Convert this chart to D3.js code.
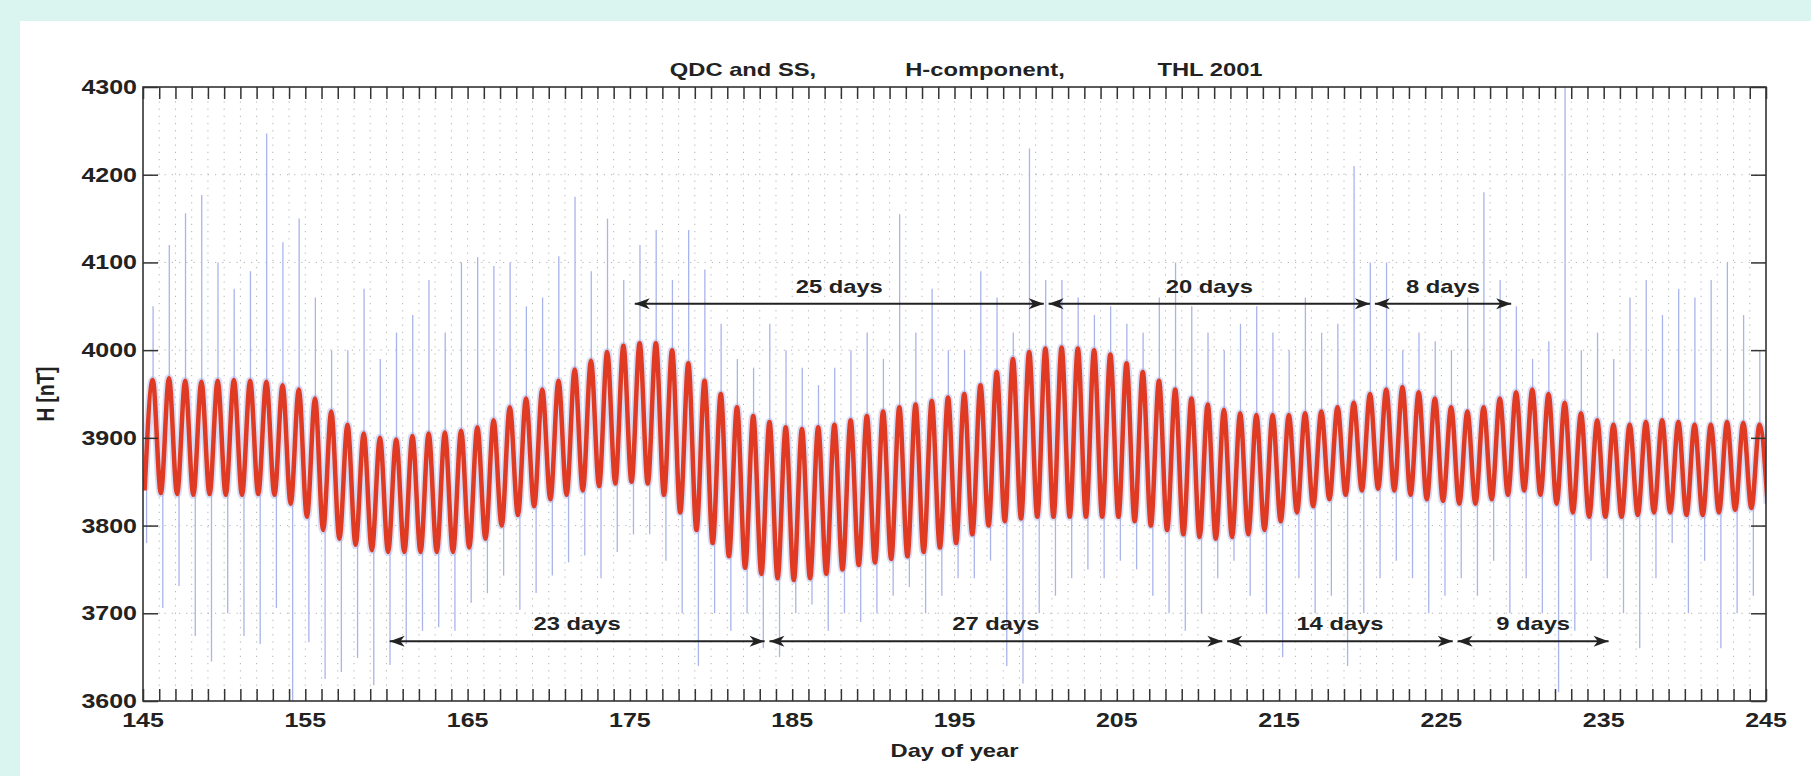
<!DOCTYPE html>
<html>
<head>
<meta charset="utf-8">
<script src="https://cdn.jsdelivr.net/npm/d3@7/dist/d3.min.js"></script>
<style>
  body { margin: 0; background: #daf4ef; }
  svg { display: block; }
  text { font-family: "Liberation Sans", Arial, Helvetica, sans-serif; font-weight: bold; fill: #222; }
</style>
</head>
<body>
<div id="chart"></div>
<script>
// x axis: day of year, labelled every 10 days
const labelDays = [145, 155, 165, 175, 185, 195, 205, 215, 225, 235, 245];
const yTicks = [3600, 3700, 3800, 3900, 4000, 4100, 4200, 4300];
const titleParts = ["QDC and SS,", "H-component,", "THL 2001"];

// QDC + SS curve: daily minimum (days 145..245) and daily maximum (days 145..244), nT
const qdcTrough = [
  3840, 3837, 3836, 3835, 3836, 3835, 3835, 3836, 3835, 3825,
  3810, 3795, 3785, 3778, 3772, 3770, 3770, 3770, 3770, 3770,
  3775, 3785, 3800, 3812, 3822, 3830, 3835, 3840, 3845, 3848,
  3850, 3848, 3835, 3815, 3795, 3780, 3765, 3752, 3745, 3740,
  3738, 3740, 3745, 3750, 3755, 3758, 3762, 3765, 3770, 3775,
  3780, 3790, 3800, 3805, 3808, 3810, 3810, 3810, 3810, 3810,
  3810, 3805, 3800, 3795, 3790, 3787, 3785, 3787, 3790, 3795,
  3805, 3815, 3822, 3830, 3835, 3840, 3842, 3840, 3835, 3830,
  3828, 3825, 3825, 3830, 3835, 3840, 3835, 3825, 3815, 3810,
  3810, 3810, 3812, 3815, 3815, 3812, 3812, 3815, 3818, 3820,
  3825
];
const qdcPeak = [
  3966, 3968, 3965, 3964, 3965, 3966, 3965, 3964, 3960, 3955,
  3945, 3930, 3915, 3905, 3900, 3898, 3902, 3905, 3906, 3908,
  3912, 3920, 3935, 3945, 3955, 3965, 3978, 3988, 3998, 4005,
  4008, 4008, 4000, 3985, 3965, 3950, 3935, 3925, 3918, 3912,
  3910, 3912, 3915, 3920, 3925, 3930, 3935, 3938, 3942, 3946,
  3950, 3960, 3975, 3990, 3998, 4002, 4003, 4002, 4000, 3995,
  3985, 3975, 3965, 3955, 3945, 3938, 3932, 3928, 3926, 3926,
  3926, 3928, 3930, 3935, 3940, 3950, 3955, 3958, 3952, 3945,
  3935, 3930, 3935, 3945, 3952, 3955, 3950, 3940, 3928, 3920,
  3915, 3915, 3918, 3920, 3918, 3915, 3915, 3918, 3917, 3915
];

// measured H: largest upward and downward excursion of each day (days 145..244), nT
const rawHigh = [
  4050, 4120, 4156, 4177, 4100, 4070, 4090, 4247, 4123, 4150,
  4060, 4000, 4000, 4070, 3990, 4020, 4040, 4080, 4020, 4100,
  4106, 4096, 4100, 4050, 4060, 4107, 4175, 4090, 4150, 4080,
  4120, 4137, 4080, 4137, 4092, 4030, 3990, 3980, 4030, 4000,
  3980, 3960, 3980, 4000, 4020, 3990, 4155, 4020, 4070, 4000,
  4000, 4090, 4060, 4020, 4230, 4080, 4080, 4060, 4040, 4050,
  4030, 4020, 4060, 4100, 4050, 4020, 4000, 4030, 4050, 4020,
  4000, 4060, 4020, 4030, 4210, 4100, 4100, 4000, 4020, 4010,
  4000, 4060, 4180, 4080, 4050, 3990, 4010, 4320, 4000, 4020,
  3990, 4060, 4080, 4040, 4070, 4060, 4080, 4100, 4040, 4000
];
const rawLow = [
  3780, 3706, 3731, 3674, 3645, 3700, 3674, 3665, 3706, 3600,
  3667, 3625, 3633, 3649, 3618, 3641, 3665, 3680, 3684, 3680,
  3712, 3723, 3743, 3704, 3723, 3743, 3758, 3766, 3740, 3770,
  3790, 3790, 3760, 3700, 3640, 3700, 3680, 3700, 3660, 3650,
  3700, 3710, 3680, 3700, 3690, 3700, 3720, 3730, 3700, 3720,
  3740, 3740, 3760, 3640, 3620, 3700, 3720, 3740, 3750, 3740,
  3760, 3750, 3720, 3700, 3680, 3700, 3740, 3760, 3720, 3700,
  3650, 3740, 3700, 3720, 3640, 3700, 3740, 3760, 3740, 3700,
  3720, 3740, 3720, 3760, 3700, 3740, 3700, 3610, 3680, 3760,
  3740, 3700, 3660, 3740, 3780, 3700, 3760, 3660, 3700, 3720
];

// interval arrows (days) and their levels (nT)
const upperFrom = [175.3, 200.8, 220.9];
const upperTo = [200.5, 220.6, 229.3];
const upperLabels = ["25 days", "20 days", "8 days"];
const upperLevel = 4053;
const lowerFrom = [160.2, 183.6, 211.8, 226.0];
const lowerTo = [183.3, 211.5, 225.7, 235.3];
const lowerLabels = ["23 days", "27 days", "14 days", "9 days"];
const lowerLevel = 3668;

const width = 1811, height = 776;
const plot = { left: 143, right: 1766, top: 87, bottom: 701 };
const stretch = "scale(1.25,1)";

const x = d3.scaleLinear().domain([145, 245]).range([plot.left, plot.right]);
const y = d3.scaleLinear().domain([3600, 4300]).range([plot.bottom, plot.top]);

const svg = d3.select("#chart").append("svg")
  .attr("width", width)
  .attr("height", height);

svg.append("rect").attr("width", width).attr("height", height).attr("fill", "#daf4ef");
svg.append("rect").attr("x", 20).attr("y", 21)
  .attr("width", width - 20).attr("height", height - 21).attr("fill", "#fff");

svg.append("clipPath").attr("id", "plot-clip").append("rect")
  .attr("x", plot.left).attr("y", plot.top)
  .attr("width", plot.right - plot.left).attr("height", plot.bottom - plot.top);

// dotted grid at every day and every 100 nT
const dayTicks = d3.range(145, 246);
const grid = svg.append("g").attr("stroke", "#9a9a9a").attr("stroke-width", 1)
  .attr("stroke-dasharray", "1.2,6").attr("opacity", 0.75);
grid.selectAll(".gv").data(dayTicks.slice(1, -1)).join("line")
  .attr("x1", d => x(d)).attr("x2", d => x(d))
  .attr("y1", plot.top).attr("y2", plot.bottom);
grid.selectAll(".gh").data(yTicks.slice(1, -1)).join("line")
  .attr("x1", plot.left).attr("x2", plot.right)
  .attr("y1", d => y(d)).attr("y2", d => y(d));

const data = svg.append("g").attr("clip-path", "url(#plot-clip)");

// QDC points: trough early in the day, peak in the afternoon
const qdcPoints = [];
qdcTrough.forEach((v, i) => {
  qdcPoints.push([145 + i + 0.1, v]);
  if (i < qdcPeak.length) qdcPoints.push([145 + i + 0.6, qdcPeak[i]]);
});
const qdcLine = d3.line()
  .x(d => x(d[0]))
  .y(d => y(d[1]))
  .curve(d3.curveMonotoneX);

// faint haze of the measured trace around the quiet curve
data.append("path").datum(qdcPoints)
  .attr("d", qdcLine)
  .attr("fill", "none")
  .attr("stroke", "#d6dcf6")
  .attr("stroke-width", 8)
  .attr("stroke-linejoin", "round");

// measured H spikes
const spikes = [];
rawHigh.forEach((v, i) => spikes.push({ day: 145 + i + 0.62, from: qdcPeak[i], to: v }));
rawLow.forEach((v, i) => spikes.push({ day: 145 + i + 0.22, from: qdcTrough[i], to: v }));
data.selectAll(".spike").data(spikes).join("line")
  .attr("x1", d => x(d.day)).attr("x2", d => x(d.day))
  .attr("y1", d => y(d.from)).attr("y2", d => y(d.to))
  .attr("stroke", "#a9b4ea")
  .attr("stroke-width", 1.3);

data.append("path").datum(qdcPoints)
  .attr("d", qdcLine)
  .attr("fill", "none")
  .attr("stroke", "#e03a22")
  .attr("stroke-width", 4.5)
  .attr("stroke-linejoin", "round");

// axes: inward ticks on all four sides
const tickColor = "#333";
svg.append("g").attr("transform", `translate(0,${plot.bottom})`)
  .call(d3.axisBottom(x).tickValues(dayTicks).tickSize(-12).tickSizeOuter(0).tickFormat(""));
svg.append("g").attr("transform", `translate(0,${plot.top})`)
  .call(d3.axisTop(x).tickValues(dayTicks).tickSize(-12).tickSizeOuter(0).tickFormat(""));
svg.append("g").attr("transform", `translate(${plot.left},0)`)
  .call(d3.axisLeft(y).tickValues(yTicks).tickSize(-15).tickSizeOuter(0).tickFormat(""));
svg.append("g").attr("transform", `translate(${plot.right},0)`)
  .call(d3.axisRight(y).tickValues(yTicks).tickSize(-15).tickSizeOuter(0).tickFormat(""));
svg.selectAll(".domain").remove();
svg.selectAll(".tick line").attr("stroke", tickColor).attr("stroke-width", 1.5);

svg.append("rect")
  .attr("x", plot.left).attr("y", plot.top)
  .attr("width", plot.right - plot.left).attr("height", plot.bottom - plot.top)
  .attr("fill", "none").attr("stroke", tickColor).attr("stroke-width", 1.6);

// tick labels
svg.selectAll(".xlab").data(labelDays).join("text")
  .attr("transform", d => `translate(${x(d)},727) ${stretch}`)
  .attr("text-anchor", "middle")
  .style("font-size", "20px")
  .text(d => d);
svg.selectAll(".ylab").data(yTicks).join("text")
  .attr("transform", d => `translate(137,${y(d) + 7}) ${stretch}`)
  .attr("text-anchor", "end")
  .style("font-size", "20px")
  .text(d => d);

// title and axis labels
const titleCenters = [743, 985, 1210];
svg.selectAll(".title").data(titleParts).join("text")
  .attr("transform", (d, i) => `translate(${titleCenters[i]},76) ${stretch}`)
  .attr("text-anchor", "middle")
  .style("font-size", "19px")
  .text(d => d);
svg.append("text")
  .attr("transform", `translate(${(plot.left + plot.right) / 2},757) ${stretch}`)
  .attr("text-anchor", "middle")
  .style("font-size", "19px")
  .text("Day of year");
svg.append("text")
  .attr("transform", `translate(54,${(plot.top + plot.bottom) / 2}) ${stretch} rotate(-90)`)
  .attr("text-anchor", "middle")
  .style("font-size", "19px")
  .text("H [nT]");

// double headed arrows
function arrowHead(g, px, py, dir) {
  const L = 15, w = 5.5;
  g.append("path")
    .attr("d", `M0,0 L${-L},${-w} L${-L * 0.72},0 L${-L},${w} Z`)
    .attr("transform", `translate(${px},${py}) scale(${dir},1)`)
    .attr("fill", "#222");
}
function drawArrows(from, to, labels, level) {
  const g = svg.append("g");
  const py = y(level);
  from.forEach((f, i) => {
    g.append("line")
      .attr("x1", x(f)).attr("x2", x(to[i]))
      .attr("y1", py).attr("y2", py)
      .attr("stroke", "#222").attr("stroke-width", 2);
    arrowHead(g, x(f), py, -1);
    arrowHead(g, x(to[i]), py, 1);
    g.append("text")
      .attr("transform", `translate(${(x(f) + x(to[i])) / 2},${py - 11}) ${stretch}`)
      .attr("text-anchor", "middle")
      .style("font-size", "19px")
      .text(labels[i]);
  });
}
drawArrows(upperFrom, upperTo, upperLabels, upperLevel);
drawArrows(lowerFrom, lowerTo, lowerLabels, lowerLevel);
</script>
</body>
</html>
